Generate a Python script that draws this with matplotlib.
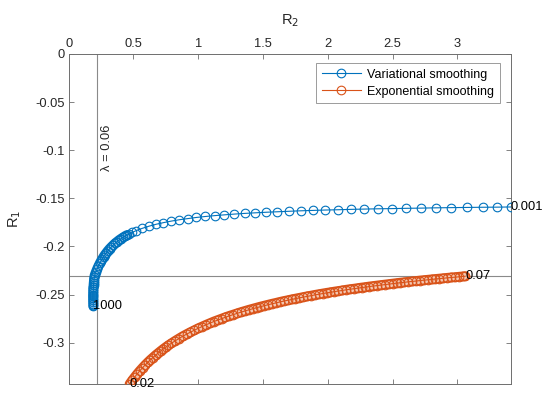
import matplotlib
matplotlib.use("Agg")
import matplotlib.pyplot as plt

plt.rcParams['font.family'] = ['Liberation Sans', 'DejaVu Sans']

# ---- data ----
var_r2 = [0.1900, 0.1895, 0.1890, 0.1887, 0.1885, 0.1885, 0.1887, 0.1890, 0.1895, 0.1900,
          0.1910, 0.1920, 0.1932, 0.1946, 0.1960, 0.1980,
          0.200, 0.210, 0.220, 0.230, 0.240, 0.250, 0.260, 0.270, 0.280, 0.290,
          0.300, 0.315, 0.330, 0.345, 0.360, 0.375, 0.390, 0.405, 0.420, 0.435, 0.450,
          0.468, 0.490, 0.516, 0.566, 0.619, 0.674, 0.731,
          0.791, 0.853, 0.918, 0.985, 1.055, 1.127, 1.201, 1.278, 1.357, 1.438,
          1.522, 1.609, 1.697, 1.789, 1.882, 1.978, 2.077, 2.178, 2.281, 2.387,
          2.495, 2.606, 2.719, 2.834, 2.952, 3.072, 3.195, 3.303, 3.413]
var_r1 = [-0.2620, -0.2600, -0.2580, -0.2560, -0.2540, -0.2520, -0.2500, -0.2480, -0.2460, -0.2440,
          -0.2420, -0.2400, -0.2380, -0.2360, -0.2340, -0.2320,
          -0.2301, -0.2265, -0.2232, -0.2203, -0.2175, -0.2150, -0.2127, -0.2105, -0.2085, -0.2067,
          -0.2049, -0.2025, -0.2004, -0.1984, -0.1965, -0.1949, -0.1933, -0.1919, -0.1906, -0.1893, -0.1882,
          -0.1869, -0.1854, -0.1839, -0.1813, -0.1790, -0.1770, -0.1753,
          -0.1737, -0.1723, -0.1711, -0.1699, -0.1689, -0.1680, -0.1672, -0.1664, -0.1657, -0.1651,
          -0.1645, -0.1640, -0.1635, -0.1630, -0.1626, -0.1622, -0.1619, -0.1615, -0.1612, -0.1609,
          -0.1607, -0.1604, -0.1602, -0.1599, -0.1597, -0.1595, -0.1593, -0.1592, -0.1590]

exp_r2 = [0.47, 0.49, 0.51, 0.53, 0.55, 0.57, 0.59, 0.61, 0.63, 0.65, 0.67, 0.69, 0.71, 0.73,
          0.75, 0.77, 0.79, 0.82, 0.85, 0.88, 0.91, 0.94, 0.97, 1.00, 1.03, 1.06, 1.09, 1.12,
          1.15, 1.18, 1.21, 1.24, 1.27, 1.30, 1.33, 1.36, 1.39, 1.42, 1.45, 1.48, 1.51, 1.54,
          1.57, 1.60, 1.63, 1.66, 1.69, 1.72, 1.75, 1.78, 1.81, 1.84, 1.87, 1.90, 1.93, 1.96,
          1.99, 2.02, 2.05, 2.08, 2.11, 2.14, 2.17, 2.20, 2.23, 2.26, 2.29, 2.32, 2.35, 2.38,
          2.41, 2.44, 2.47, 2.50, 2.53, 2.56, 2.59, 2.62, 2.65, 2.68, 2.71, 2.74, 2.77, 2.80,
          2.83, 2.86, 2.89, 2.92, 2.95, 2.98, 3.01, 3.04, 3.06]
exp_r1 = [-0.3430, -0.3392, -0.3357, -0.3323, -0.3291, -0.3261, -0.3232, -0.3205, -0.3179,
          -0.3155, -0.3131, -0.3109, -0.3087, -0.3066, -0.3046, -0.3027, -0.3009, -0.2983,
          -0.2958, -0.2934, -0.2912, -0.2891, -0.2871, -0.2851, -0.2833, -0.2815, -0.2798,
          -0.2781, -0.2766, -0.2751, -0.2736, -0.2722, -0.2709, -0.2696, -0.2683, -0.2671,
          -0.2659, -0.2648, -0.2637, -0.2626, -0.2616, -0.2606, -0.2596, -0.2587, -0.2577,
          -0.2568, -0.2560, -0.2551, -0.2543, -0.2535, -0.2527, -0.2519, -0.2512, -0.2504,
          -0.2497, -0.2490, -0.2483, -0.2477, -0.2470, -0.2464, -0.2458, -0.2451, -0.2445,
          -0.2440, -0.2434, -0.2428, -0.2423, -0.2417, -0.2412, -0.2407, -0.2402, -0.2397,
          -0.2392, -0.2387, -0.2382, -0.2377, -0.2373, -0.2368, -0.2364, -0.2360, -0.2355,
          -0.2351, -0.2347, -0.2343, -0.2339, -0.2335, -0.2331, -0.2327, -0.2323, -0.2320,
          -0.2316, -0.2312, -0.2310]

series_names = ["Variational smoothing", "Exponential smoothing"]
end_labels_var = ["1000", "0.001"]
end_labels_exp = ["0.02", "0.07"]
vline_x = 0.216
hline_y = -0.231
vline_label = "λ = 0.06"
x_ticks = [0, 0.5, 1, 1.5, 2, 2.5, 3]
x_ticklabels = ["0", "0.5", "1", "1.5", "2", "2.5", "3"]
y_ticks = [0, -0.05, -0.1, -0.15, -0.2, -0.25, -0.3]
y_ticklabels = ["0", "-0.05", "-0.1", "-0.15", "-0.2", "-0.25", "-0.3"]

# ---- styles ----
BLUE = "#0072BD"
ORANGE = "#D95319"
AXC = "#6e6e6e"
TXT = "#262626"
FS = 9.3
MS = 6.2
N_DENSE_VAR = 37   # densely packed start of the blue curve

fig = plt.figure(figsize=(5.5, 3.99), dpi=100)
ax = fig.add_axes([0.1249, 0.0376, 0.929 - 0.1249, 0.8647 - 0.0376])

ax.axvline(vline_x, color="#8a8a8a", lw=0.8, zorder=1)
ax.axhline(hline_y, color="#8a8a8a", lw=0.8, zorder=1)

# dense tracks (band look of overlapping circles)
ax.plot(exp_r2, exp_r1, '-', color=ORANGE, lw=MS + 0.9, solid_capstyle='round', zorder=2)
ax.plot(exp_r2, exp_r1, '-', color="#f3c6b0", lw=MS - 1.3, solid_capstyle='round', zorder=2)
ax.plot(var_r2[:N_DENSE_VAR], var_r1[:N_DENSE_VAR], '-', color=BLUE, lw=MS + 0.9,
        solid_capstyle='round', zorder=2)
ax.plot(var_r2[:N_DENSE_VAR], var_r1[:N_DENSE_VAR], '-', color="#a9cdea", lw=MS - 1.3,
        solid_capstyle='round', zorder=2)

ax.plot(var_r2, var_r1, '-o', color=BLUE, lw=0.8, ms=MS, mfc='none', mew=0.8,
        label=series_names[0], zorder=3)
ax.plot(exp_r2, exp_r1, '-o', color=ORANGE, lw=0.8, ms=MS, mfc='none', mew=0.8,
        label=series_names[1], zorder=3)

ax.text(var_r2[0], var_r1[0], end_labels_var[0], ha='left', va='center', fontsize=FS, color='black')
ax.text(var_r2[-1], var_r1[-1], end_labels_var[1], ha='left', va='center', fontsize=FS, color='black')
ax.text(exp_r2[0], exp_r1[0], end_labels_exp[0], ha='left', va='center', fontsize=FS, color='black')
ax.text(exp_r2[-1], exp_r1[-1], end_labels_exp[1], ha='left', va='center', fontsize=FS, color='black')
ax.text(vline_x + 0.077, -0.098, vline_label, rotation=90, ha='center', va='center',
        fontsize=FS, color=TXT)

ax.set_xlim(0, max(var_r2))
ax.set_ylim(min(exp_r1), 0)

ax.xaxis.set_ticks_position('both')
ax.yaxis.set_ticks_position('both')
ax.xaxis.set_label_position('top')
ax.tick_params(axis='x', labeltop=True, labelbottom=False)
ax.tick_params(direction='in', length=3.5, width=0.6, color=AXC, labelsize=FS,
               labelcolor=TXT, pad=3)
ax.set_xticks(x_ticks)
ax.set_xticklabels(x_ticklabels)
ax.set_yticks(y_ticks)
ax.set_yticklabels(y_ticklabels)
for s in ax.spines.values():
    s.set_color(AXC)
    s.set_linewidth(0.7)

ax.set_xlabel("R$_2$", fontsize=10.5, color=TXT, labelpad=10)
ax.set_ylabel("R$_1$", fontsize=10.5, color=TXT, labelpad=9)

leg = ax.legend(loc='upper right', bbox_to_anchor=(0.9755, 0.973), fontsize=9,
                frameon=True, fancybox=False, borderpad=0.45, handlelength=3.1,
                handletextpad=0.55, labelspacing=0.4, borderaxespad=0)
leg.get_frame().set_edgecolor(AXC)
leg.get_frame().set_linewidth(0.6)

fig.savefig("out.png", dpi=100)
